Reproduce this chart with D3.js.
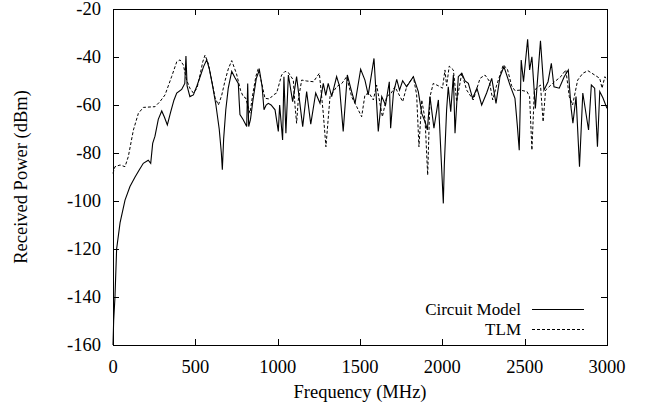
<!DOCTYPE html>
<html><head><meta charset="utf-8">
<script src="https://cdn.jsdelivr.net/npm/d3@7"></script>
<style>
html,body{margin:0;padding:0;background:#fff;}
svg{display:block;}
</style></head>
<body><svg id="chart" width="651" height="407"></svg>
<script>
const xTicks = [0,500,1000,1500,2000,2500,3000];
const yTicks = [-160,-140,-120,-100,-80,-60,-40,-20];
const seriesNames = ["Circuit Model","TLM"];

const circuitFreq = [0,4,12,22,43,73,103,134,160,184,214,229,241,255,275,296,312,330,350,370,387,417,436,443,450,467,488,510,530,550,569,585,605,625,645,658,664,672,685,700,721,740,761,766,771,790,812,818,824,835,850,870,889,905,917,930,943,960,984,1004,1012,1030,1038,1050,1065,1091,1115,1152,1176,1201,1231,1257,1277,1292,1307,1328,1358,1375,1398,1423,1449,1470,1504,1530,1550,1585,1611,1632,1655,1678,1686,1703,1723,1740,1759,1783,1824,1854,1875,1895,1909,1925,1949,1976,2006,2012,2026,2036,2051,2067,2077,2097,2118,2138,2158,2184,2210,2239,2269,2300,2326,2350,2374,2411,2441,2456,2467,2479,2493,2518,2530,2544,2565,2596,2617,2642,2662,2678,2710,2740,2765,2781,2793,2812,2833,2853,2888,2905,2925,2942,2956,2975,3000];
const circuitPower = [-160,-150,-140,-120,-109,-99.6,-94,-90,-87,-84.3,-83,-84.3,-76,-73,-66,-62.5,-65,-68.3,-63,-58,-55,-53.5,-51,-39.6,-52,-56.5,-55.8,-52,-48,-44,-41.2,-45,-52,-60,-70,-80,-87,-74,-62,-53,-46,-48.5,-51,-58,-64,-66,-69,-51,-69,-66,-58,-49,-45.4,-52,-62,-60,-59.3,-60,-62,-71,-60,-74.6,-48.2,-71.8,-47.5,-58.6,-48.2,-69,-54.4,-68,-55,-59.3,-51,-56,-51,-56.5,-48.2,-52,-71,-47.5,-54.4,-59.3,-45.1,-49.6,-55.8,-40.6,-71,-56.5,-60,-50.3,-69.7,-55,-49.3,-53.8,-49.9,-52.4,-48.2,-54.4,-63.5,-67,-70.4,-56.5,-69.7,-57.9,-101,-85,-62,-52.4,-62.8,-47.5,-71.8,-48.2,-46.8,-50,-51,-57.2,-53,-60,-55,-48.9,-59.3,-48.2,-44,-51.7,-57.2,-69,-78.8,-41.3,-50.3,-32.6,-45.4,-39.9,-61.4,-33.2,-53.8,-50.3,-42.6,-52.4,-53,-48.2,-45.4,-60.7,-67.6,-56.5,-85.7,-55,-70.4,-51.7,-53,-77.4,-54.4,-57,-61.4];

const tlmFreq = [0,12,43,73,93,124,154,184,255,285,316,356,387,407,427,447,467,488,510,530,545,559,580,600,620,640,660,680,700,721,750,775,791,805,832,850,868,883,900,923,950,974,994,1010,1024,1045,1065,1095,1105,1115,1125,1146,1176,1217,1253,1265,1277,1293,1318,1358,1390,1419,1449,1480,1510,1530,1555,1581,1601,1636,1662,1690,1712,1759,1785,1824,1844,1858,1875,1895,1911,1925,1945,1976,2001,2016,2026,2042,2067,2087,2118,2148,2188,2229,2259,2285,2306,2330,2370,2395,2421,2441,2473,2514,2530,2544,2559,2596,2612,2627,2670,2719,2750,2771,2791,2822,2853,2884,2925,2956,2970,2987,3000];
const tlmPower = [-88.5,-85.7,-85,-85.7,-81.5,-70.4,-63.5,-61,-60.7,-58.6,-55.8,-48.2,-42,-41.2,-43.3,-49.6,-53,-55,-53,-47,-42,-39.2,-43,-50,-57,-60,-56,-50,-45,-41.5,-47,-54,-56.5,-57,-63.4,-55,-48,-44.7,-50,-57.2,-57.5,-55.8,-55,-51,-47.5,-46,-46.5,-49.6,-60,-67.6,-58,-49.6,-50,-50.3,-46.8,-55,-63.5,-77.4,-56.5,-52.4,-51,-48.2,-56.5,-60.7,-64.9,-55.8,-55,-57.9,-51.7,-64.9,-56.5,-55,-52.4,-58.6,-52,-48.2,-55.8,-77.4,-57.9,-66,-89.2,-56.5,-51,-52,-53,-45.4,-52,-43.8,-45.4,-58.6,-46.8,-53.8,-57.9,-48.9,-47.5,-50,-57.9,-51.7,-43.3,-45,-52,-54,-53.8,-54.4,-56.5,-78.8,-53.8,-51.7,-67,-53.8,-51,-48.2,-45.4,-56.5,-60,-49.6,-46.8,-45.7,-47.5,-48.9,-53,-48.2,-49.6];

const FONT = "'Liberation Serif', Tinos, 'Times New Roman', 'DejaVu Serif', serif";
const svg = d3.select("#chart");
const m = {left:113, top:9, right:607, bottom:345};
const x = d3.scaleLinear().domain([0,3000]).range([m.left, m.right]);
const y = d3.scaleLinear().domain([-160,-20]).range([m.bottom, m.top]);
const FS = 18.5;

const tl = 6;
const g = svg.append("g").attr("stroke","#000").attr("stroke-width",1).attr("shape-rendering","crispEdges");
xTicks.forEach(t=>{
  const px = Math.round(x(t))+0.5;
  g.append("line").attr("x1",px).attr("x2",px).attr("y1",m.bottom).attr("y2",m.bottom-tl);
  g.append("line").attr("x1",px).attr("x2",px).attr("y1",m.top).attr("y2",m.top+tl);
});
yTicks.forEach(t=>{
  const py = Math.round(y(t))+0.5;
  g.append("line").attr("x1",m.left).attr("x2",m.left+tl).attr("y1",py).attr("y2",py);
  g.append("line").attr("x1",m.right).attr("x2",m.right-tl).attr("y1",py).attr("y2",py);
});

const line = (fs, ps) => d3.line().x((d,i)=>x(fs[i])).y((d,i)=>y(ps[i]))(fs);
svg.append("path").attr("d", line(tlmFreq, tlmPower)).attr("fill","none").attr("stroke","#000").attr("stroke-width",1).attr("stroke-dasharray","3,2");
svg.append("path").attr("d", line(circuitFreq, circuitPower)).attr("fill","none").attr("stroke","#000").attr("stroke-width",1.1);

svg.append("rect").attr("x",m.left+0.5).attr("y",m.top+0.5).attr("width",m.right-m.left).attr("height",m.bottom-m.top)
  .attr("fill","none").attr("stroke","#000").attr("stroke-width",1).attr("shape-rendering","crispEdges");

const txt = (sel, fs) => sel.attr("font-family",FONT).attr("font-size",fs||FS).attr("fill","#000");
xTicks.forEach(t=>{
  txt(svg.append("text")).attr("x",x(t)).attr("y",373).attr("text-anchor","middle").text(t);
});
yTicks.forEach(t=>{
  txt(svg.append("text")).attr("x",101).attr("y",y(t)+6).attr("text-anchor","end").text(t);
});

txt(svg.append("text")).attr("x",(m.left+m.right)/2).attr("y",398).attr("text-anchor","middle").text("Frequency (MHz)");
txt(svg.append("text")).attr("transform","translate(27,"+((m.top+m.bottom)/2)+") rotate(-90)").attr("text-anchor","middle").text("Received Power (dBm)");

const leg = [{name:seriesNames[0], dash:null, y:309.5},{name:seriesNames[1], dash:"3,2", y:329.5}];
leg.forEach(l=>{
  txt(svg.append("text"), 17).attr("x",521).attr("y",l.y+5.5).attr("text-anchor","end").text(l.name);
  svg.append("line").attr("x1",532).attr("x2",584).attr("y1",l.y).attr("y2",l.y).attr("stroke","#000").attr("stroke-width",1)
    .attr("stroke-dasharray",l.dash);
});
</script></body></html>
